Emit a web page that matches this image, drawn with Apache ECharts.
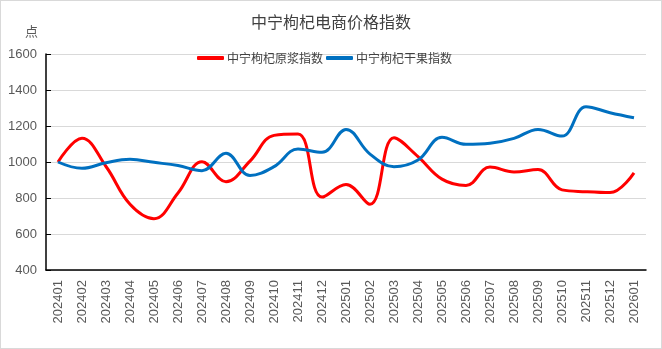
<!DOCTYPE html>
<html><head><meta charset="utf-8">
<script src="https://cdn.jsdelivr.net/npm/echarts@6/dist/echarts.min.js"></script>
<style>html,body{margin:0;padding:0;background:#fff}#c{width:660px;height:347px;border:1px solid #d9d9d9}</style>
</head><body><div id="c"></div>
<script>
const categories = ['202401','202402','202403','202404','202405','202406','202407','202408','202409','202410','202411','202412','202501','202502','202503','202504','202505','202506','202507','202508','202509','202510','202511','202512','202601'];
const yuanjiang = [1000,1132,975,765,685,828,1002,890,1005,1148,1155,805,875,765,1135,1030,905,870,972,945,958,845,835,830,940];
const ganguo = [1000,965,996,1015,998,980,952,1048,925,974,1072,1054,1181,1044,974,1011,1137,1098,1104,1131,1181,1144,1307,1274,1246];
const seriesNames = ['中宁枸杞原浆指数','中宁枸杞干果指数'];
const font = 'Liberation Sans, Arial, sans-serif';
const chart = echarts.init(document.getElementById('c'));
chart.setOption({
  animation:false,
  title:{text:'中宁枸杞电商价格指数',left:'center',top:8,textStyle:{fontSize:16,fontWeight:'normal',color:'#404040',fontFamily:'Noto Sans CJK SC'}},
  legend:{top:46,left:191,itemWidth:27,itemHeight:4,itemGap:3,icon:'roundRect',
    textStyle:{fontSize:12,color:'#404040',fontFamily:'Noto Sans CJK SC',padding:[0,0,0,-2]},
    data:seriesNames},
  grid:{left:45,right:15,top:53,bottom:78,containLabel:false},
  xAxis:{type:'category',data:categories,boundaryGap:true,
    axisLine:{lineStyle:{color:'#000',width:1.5}},
    axisTick:{inside:true,length:5,lineStyle:{color:'#000'},alignWithLabel:false},
    axisLabel:{rotate:90,fontSize:13,color:'#595959',fontFamily:font,margin:10,interval:0}},
  yAxis:{type:'value',min:400,max:1600,interval:200,name:'点',
    nameLocation:'end',nameGap:16,nameTextStyle:{fontSize:13,color:'#595959',fontFamily:'Noto Sans CJK SC',align:'right',padding:[0,8,0,0]},
    axisLine:{show:true,lineStyle:{color:'#000',width:1.5}},
    axisTick:{show:true,inside:true,length:5,lineStyle:{color:'#000'}},
    axisLabel:{fontSize:13,color:'#595959',fontFamily:font,margin:9,formatter:v=>String(v)},
    splitLine:{lineStyle:{color:'#d9d9d9'}}},
  series:[
    {name:seriesNames[0],type:'line',data:yuanjiang,smooth:0.4,showSymbol:false,symbol:'none',lineStyle:{color:'#ff0000',width:3},itemStyle:{color:'#ff0000'}},
    {name:seriesNames[1],type:'line',data:ganguo,smooth:0.4,showSymbol:false,symbol:'none',lineStyle:{color:'#0070c0',width:3},itemStyle:{color:'#0070c0'}}
  ]
});
</script></body></html>
